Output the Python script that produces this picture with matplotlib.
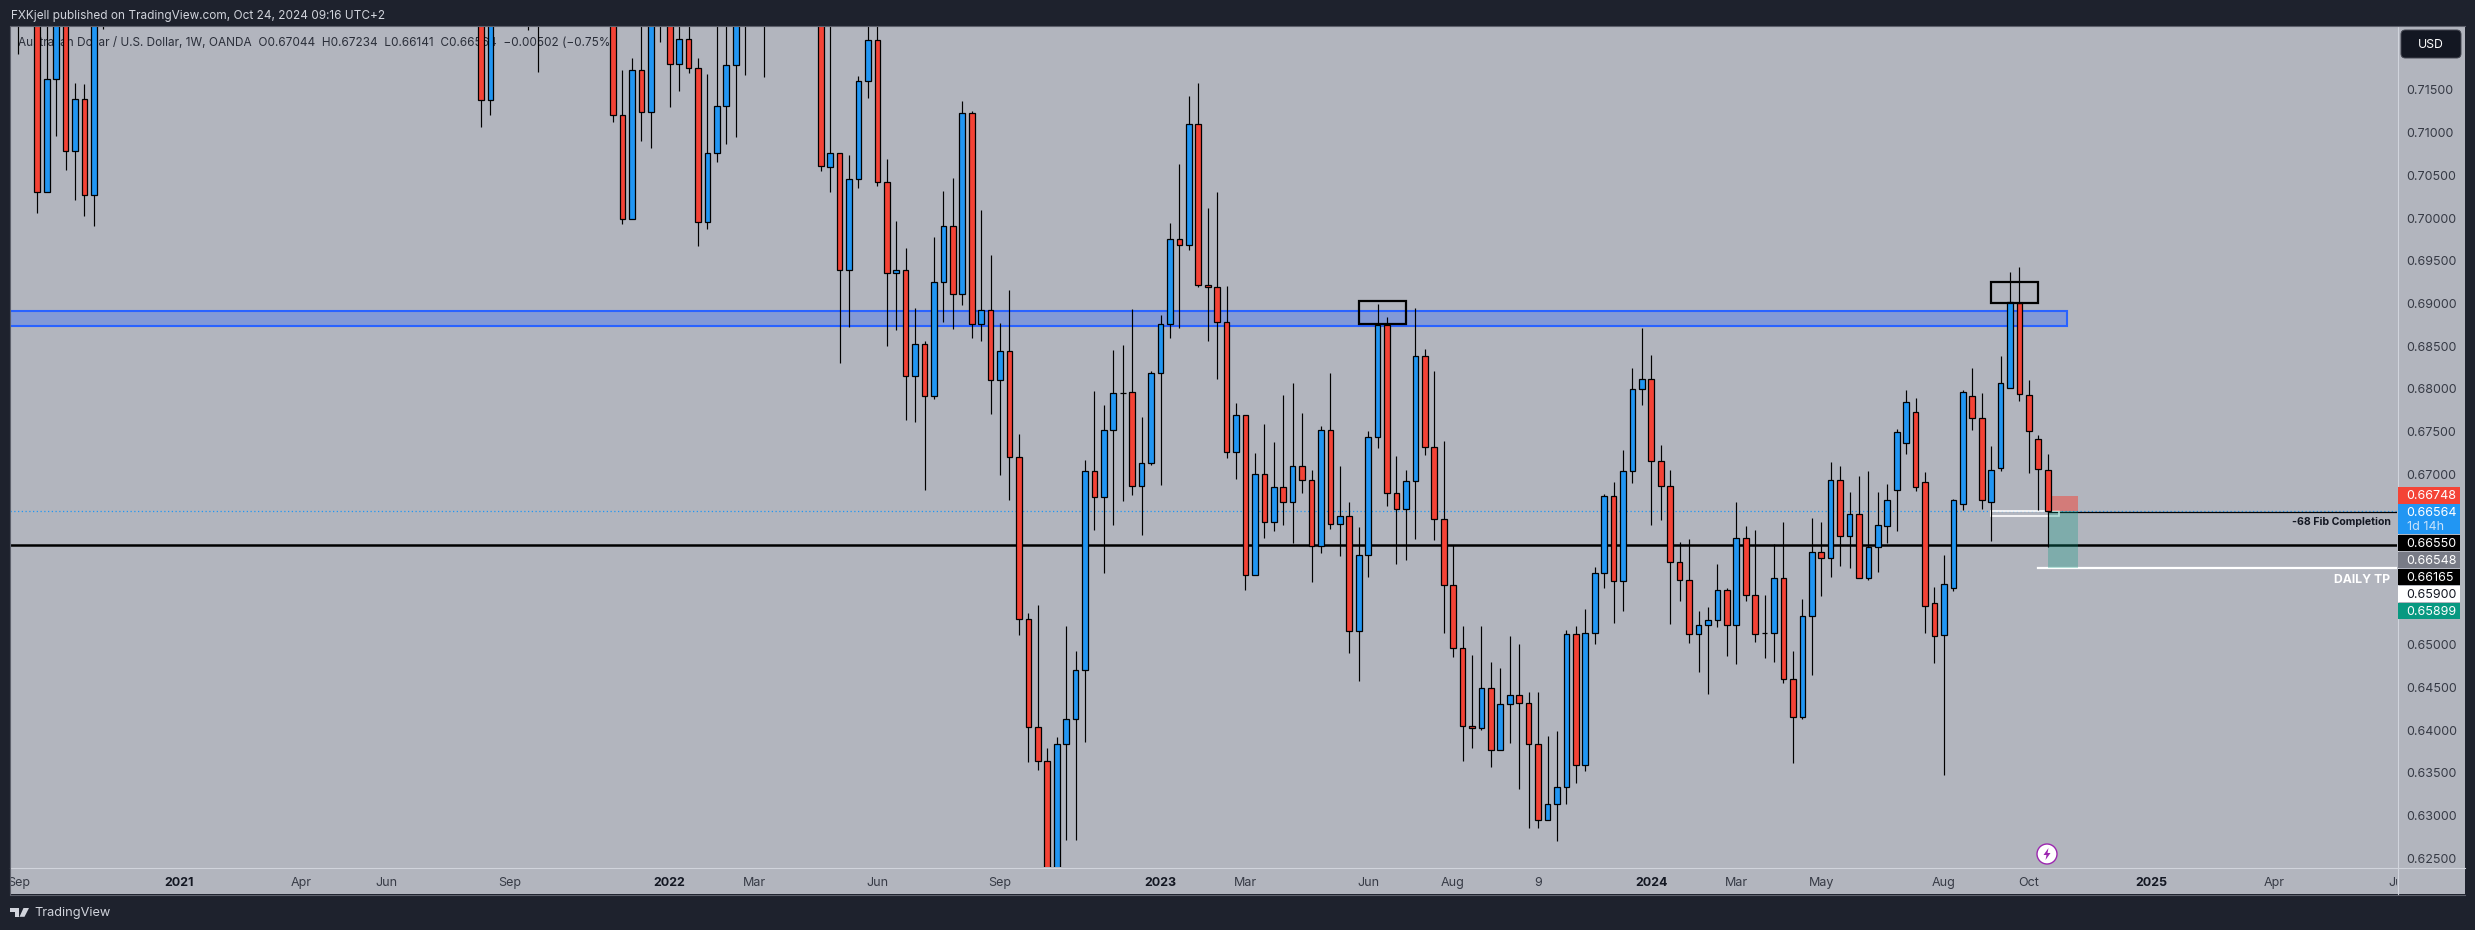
import numpy as np
import matplotlib
matplotlib.use("Agg")
import matplotlib.pyplot as plt
from matplotlib.patches import Rectangle, Circle, Polygon, FancyBboxPatch
from matplotlib.lines import Line2D
from matplotlib.transforms import Bbox

# AUDUSD weekly candles, week 0 = 2020-09-07, only what shows up in the window
# (bodies above the top edge are rough guesses, they are cut off anyway)
weeks = [0, 2, 3, 4, 5, 6, 7, 8, 9, 49, 50, 54, 55, 63, 64, 65, 66, 67, 68, 69, 70, 71,
         72, 73, 74, 75, 76, 77, 79, 85] + list(range(86, 216))

opens = [.7300, .7300, .70302, .71626, .7300, .70789, .71391, .70273, .7300, .7300, .7138, .7300, .7300, .7300, .71204,
         .69985, .71731, .71246, .7300, .7240, .71808, .72094, .71754, .6995, .70759, .71309, .7179, .7300, .7300, .7260,
         .70601, .70759, .69388, .70454, .71602, .72083, .70426, .69352, .69388, .68152, .6852, .67918, .69247, .69903,
         .69113, .71227, .68762, .68919, .68106, .68438, .67203, .65298, .64032, .63634, .6220, .63833, .64126, .6470,
         .67032, .66735, .67513, .67955, .67958, .66856, .67126, .68181, .68755, .69751, .6968, .71098, .69212, .69188,
         .68778, .67255, .67688, .65821, .66997, .66435, .66845, .66676, .67091, .66927, .66153, .67513, .66418, .66505,
         .65164, .66048, .67431, .6875, .66774, .66587, .66915, .6838, .67313, .6647, .65696, .64958, .64044, .64021,
         .6449, .63763, .64302, .64407, .64314, .63833, .62943, .6313, .63329, .65122, .63587, .65134, .65837, .66739,
         .65743, .67032, .67993, .6811, .67149, .66856, .65966, .65755, .65122, .65228, .65293, .65638, .65235, .66247,
         .65586, .6514, .65137, .65778, .64602, .64157, .65333, .66083, .6602, .66927, .66271, .66528, .65785, .66142,
         .66388, .6681, .6736, .67724, .66903, .65485, .65117, .65668, .66646, .67911, .67653, .66669, .67067, .68005,
         .69001, .67923, .67407, .67044]

highs = [.7340, .7340, .7260, .7340, .7340, .71582, .71571, .7340, .7340, .7340, .7340, .7340, .7340, .7340, .71735,
         .71879, .7260, .7300, .7340, .7280, .7240, .7240, .71872, .71688, .7240, .7240, .7300, .7340, .7340, .7300,
         .7240, .70759, .70739, .71664, .7240, .7240, .70692, .69965, .69649, .68942, .68559, .69778, .70317, .70469,
         .71371, .71254, .70094, .69567, .68773, .69157, .67469, .65368, .65466, .63786, .63915, .65219, .64927, .67165,
         .67973, .67809, .68454, .68512, .68931, .67668, .68204, .6886, .69942, .70633, .7143, .71582, .70118, .70305,
         .69204, .67833, .67688, .67243, .67586, .67376, .67926, .68067, .67715, .67047, .67563, .68184, .67094, .66672,
         .6638, .67504, .68993, .6884, .67211, .67047, .68946, .68465, .68208, .67384, .66169, .65219, .6488, .65219,
         .64798, .64727, .65102, .65008, .64446, .64446, .6393, .63989, .65173, .65219, .65419, .65911, .66766, .66907,
         .67278, .68243, .68711, .68395, .6734, .67047, .66204, .66239, .65395, .65442, .65946, .65665, .66672, .66391,
         .66344, .65583, .6618, .66438, .64927, .65536, .66485, .66438, .67141, .67094, .6679, .66977, .67036, .6679,
         .66883, .67528, .67985, .67891, .67024, .65676, .66051, .66711, .67985, .68243, .6795, .67329, .68383, .69364,
         .69423, .68099, .67454, .67234]

lows = [.71922, .70062, .70302, .70961, .70563, .70211, .70024, .69907, .72219, .7107, .71207, .72203, .71715, .71129, .69934,
        .69985, .70906, .70824, .72066, .71305, .71492, .71703, .69676, .69875, .70657, .70868, .70953, .71676, .71656, .70555,
        .70309, .68298, .68727, .70355, .7141, .70379, .68504, .68688, .67633, .67613, .66817, .67879, .68785, .68703,
        .68981, .68594, .68563, .67704, .66989, .66696, .65114, .6363, .63532, .6170, .6180, .62712, .62712, .6386,
        .66344, .65844, .66403, .66684, .66755, .66289, .67106, .66872, .68594, .68715, .69629, .69195, .68563, .68117,
        .67188, .66942, .65645, .65821, .66251, .66333, .66403, .66192, .66778, .65735, .66078, .66356, .6604, .64907,
        .64578, .65797, .67309, .66629, .65949, .65996, .66242, .67223, .66231, .65141, .6486, .63638, .63793, .64004,
        .63571, .63763, .63848, .6331, .62856, .62856, .62943, .62704, .63137, .63383, .63524, .65012, .65668, .65258,
        .65399, .66899, .67813, .66403, .66465, .65243, .65512, .65024, .64684, .64426, .65211, .64868, .64774, .65512,
        .65032, .64844, .64798, .64551, .63614, .6413, .64645, .65571, .65794, .65923, .65899, .65785, .65758, .65852,
        .66192, .66336, .67235, .66805, .65137, .64786, .63473, .6563, .66579, .67516, .66594, .66215, .67039, .68005,
        .6786, .67016, .66579, .66141]

closes = [.7260, .70302, .71626, .7300, .70789, .71391, .70273, .7300, .7260, .7138, .7300, .7260, .7260, .71204, .69985,
          .71731, .71246, .7260, .7260, .71808, .72094, .71754, .6995, .70759, .71309, .7179, .7260, .7260, .7260, .70610,
          .70759, .69388, .70454, .71602, .72083, .70426, .69352, .69388, .68152, .6852, .67918, .69247, .69903, .69113,
          .71227, .68762, .68919, .68106, .68438, .67203, .65298, .64032, .63634, .6220, .63833, .64126, .6470, .67032,
          .66735, .67513, .67946, .6795, .66856, .67126, .68181, .68755, .69751, .6968, .71098, .69212, .69188, .68778,
          .67255, .67688, .65821, .66997, .66435, .66845, .66676, .67091, .66927, .66153, .67513, .66418, .66505, .65164,
          .66048, .67431, .6875, .66774, .66587, .66915, .6838, .67313, .6647, .65696, .64958, .64044, .64021, .6449,
          .63763, .64302, .64407, .64314, .63833, .62943, .6313, .63329, .65122, .63587, .65134, .65837, .66739, .65743,
          .67032, .67993, .6811, .67149, .66856, .65966, .65755, .65122, .65228, .65293, .65638, .65235, .66247, .65586,
          .65129, .65134, .65778, .64602, .64157, .65333, .66083, .6602, .66927, .66271, .66528, .65785, .66142, .664,
          .66692, .67489, .67841, .66845, .65457, .65099, .65708, .66692, .67958, .67653, .66692, .67044, .68063, .69013,
          .67935, .67501, .67056, .66564]

# 0.655, 0.66, 0.665 and 0.72 sit behind the tags and the USD button, left out
price_ticks = [.625, .63, .635, .64, .645, .65, .67, .675, .68, .685, .69, .695, .70, .705, .71, .715]
time_ticks = [0, 17, 30, 39, 52, 69, 78, 91, 104, 121, 130, 143, 152, 161, 173, 182, 191, 204, 213, 226, 239, 252]
time_labels = ["Sep", "2021", "Apr", "Jun", "Sep", "2022", "Mar", "Jun", "Sep", "2023", "Mar", "Jun", "Aug", "9",
               "2024", "Mar", "May", "Aug", "Oct", "2025", "Apr", "Jul"]

zone_low, zone_high = 0.6874, 0.6891
last_price = 0.66564
fib_level = 0.6655
black_level = 0.66165
tp_level = 0.659
stop_level = 0.66748
target_level = 0.65899

tag_texts = ["0.66748", "0.66564", "0.66550", "0.66548", "0.66165", "0.65900", "0.65899"]
tag_colors = ["#f44336", "#2196f3", "#000000", "#787b86", "#000000", "#ffffff", "#089981"]
tag_text_colors = ["#ffffff", "#ffffff", "#ffffff", "#ffffff", "#ffffff", "#131722", "#ffffff"]

W, H = 2475, 930
DARK = "#1e222d"
PANEL = "#b2b5be"
INK = "#2a2e39"
FONT = "Inter"
plt.rcParams["font.family"] = [FONT, "DejaVu Sans"]


def fx(x):
    return x / W


def fy(y):
    return 1 - y / H


def px_rect(fig, x0, y0, x1, y1, **kw):
    # rectangle in image pixels, y going down
    fig.add_artist(Rectangle((fx(x0), fy(y1)), (x1 - x0) / W, (y1 - y0) / H,
                             transform=fig.transFigure, **kw))


def draw_candles(ax):
    o = np.array(opens)
    c = np.array(closes)
    x = np.array(weeks)
    ax.vlines(x, lows, highs, color="black", lw=0.85, zorder=4)
    up = c >= o
    bottoms = np.minimum(o, c)
    heights = np.abs(c - o)
    ax.bar(x, heights, 0.6, bottoms, color=np.where(up, "#2196f3", "#f44336"),
           edgecolor="black", linewidth=0.9, zorder=5)


def draw_levels(ax):
    ax.add_patch(Rectangle((-5, zone_low), 222, zone_high - zone_low, facecolor="#8299d6",
                           edgecolor="#2962ff", lw=1.5, zorder=2))
    ax.axhline(black_level, color="black", lw=1.8, zorder=2)
    ax.axhline(last_price, color="#2196f3", lw=0.9, ls=(0, (1, 2)), zorder=2.5)
    ax.plot([215, 260], [fib_level, fib_level], color="black", lw=0.9, zorder=3)
    ax.plot([214, 260], [tp_level, tp_level], color="white", lw=1.6, zorder=3)
    ax.add_patch(Rectangle((209, 0.66512), 7.2, 0.00055, fill=False, edgecolor="white", lw=1.2, zorder=3))

    # short position box
    ax.add_patch(Rectangle((215, last_price), 3.2, stop_level - last_price, facecolor="#f44336",
                           edgecolor="none", alpha=0.5, zorder=3))
    ax.add_patch(Rectangle((215, target_level), 3.2, last_price - target_level, facecolor="#089981",
                           edgecolor="none", alpha=0.3, zorder=3))

    # the two marked tops
    ax.add_patch(Rectangle((142, 0.68758), 5, 0.00273, fill=False, edgecolor="black", lw=1.6, zorder=6))
    ax.add_patch(Rectangle((209, 0.69004), 5, 0.0025, fill=False, edgecolor="black", lw=1.6, zorder=6))

    ax.text(2391, 930 - 521.5, "-68 Fib Completion", transform=None, ha="right", va="center",
            fontsize=7.6, fontweight="bold", color="#131722", zorder=7)
    ax.text(2390, 930 - 580, "DAILY TP", transform=None, ha="right", va="center",
            fontsize=8.8, fontweight="bold", color="white", zorder=7)


def draw_price_tags(fig):
    y = 487.3
    for text, bg, fg in zip(tag_texts, tag_colors, tag_text_colors):
        tall = text == "0.66564"
        h = 30.4 if tall else 17
        px_rect(fig, 2398, y, 2459.5, y + h - 0.4, facecolor=bg, edgecolor="none", zorder=4)
        fig.text(fx(2406.6), fy(y + 9), text, color=fg, fontsize=9, va="center", ha="left", zorder=5)
        if tall:
            fig.text(fx(2406.6), fy(y + 23), "1d 14h", color="#c8e3fb", fontsize=9, va="center", ha="left", zorder=5)
        y += h


def draw_chrome(fig):
    # header and logo
    fig.text(fx(10.5), fy(15.7), "FXKjell published on TradingView.com, Oct 24, 2024 09:16 UTC+2",
             color="#d1d4dc", fontsize=8.5, va="center", ha="left")
    fig.text(fx(34), fy(913), "TradingView", color="#d1d4dc", fontsize=9.2, va="center", ha="left")
    logo = "#d1d4dc"
    px_rect(fig, 10, 908, 18.5, 911.5, facecolor=logo, edgecolor="none")
    px_rect(fig, 14.5, 908, 18.5, 916.8, facecolor=logo, edgecolor="none")
    fig.add_artist(Polygon([(fx(23.5), fy(908)), (fx(29), fy(908)), (fx(24.5), fy(916.8)), (fx(19.5), fy(916.8))],
                           transform=fig.transFigure, facecolor=logo, edgecolor="none"))

    # USD button
    fig.add_artist(FancyBboxPatch((fx(2401), fy(58)), 60 / W, 28 / H, boxstyle="round,pad=0,rounding_size=0.0018",
                                  mutation_aspect=W / H, transform=fig.transFigure, facecolor="#131722",
                                  edgecolor="#434651", lw=0.7, zorder=4))
    fig.text(fx(2431), fy(44.5), "USD", color="#ffffff", fontsize=8.8, va="center", ha="center", zorder=5)

    # separators of the axis strips
    sep = "#d1d4dc"
    fig.add_artist(Line2D([fx(10), fx(2465)], [fy(867.5), fy(867.5)], color=sep, lw=0.8, zorder=3))
    fig.add_artist(Line2D([fx(2397.5), fx(2397.5)], [fy(27), fy(894)], color=sep, lw=0.8, zorder=3))
    border = "#5d606b"
    fig.add_artist(Line2D([fx(10), fx(2465)], [fy(26.5), fy(26.5)], color=border, lw=0.8, zorder=3))
    fig.add_artist(Line2D([fx(10), fx(2465)], [fy(894.5), fy(894.5)], color=border, lw=0.8, zorder=3))
    fig.add_artist(Line2D([fx(10), fx(10)], [fy(27), fy(894)], color=border, lw=0.8, zorder=3))

    # lightning badge
    cx, cy = 2047, 854
    badge = Circle((cx, H - cy), 10, transform=None, facecolor="white", edgecolor="#9c27b0", lw=1.0, zorder=6)
    fig.add_artist(badge)
    bolt = [(cx + 1.5, cy - 6), (cx - 3.5, cy + 1), (cx - 0.5, cy + 1), (cx - 1.5, cy + 6), (cx + 3.5, cy - 1), (cx + 0.5, cy - 1)]
    fig.add_artist(Polygon([(fx(a), fy(b)) for a, b in bolt], transform=fig.transFigure,
                           facecolor="#9c27b0", edgecolor="none", zorder=7))


def create_plot():
    fig = plt.figure(figsize=(W / 100, H / 100), dpi=100, facecolor=DARK)

    # grey chart frame including the two axis strips
    px_rect(fig, 10, 27, 2465, 894, facecolor=PANEL, edgecolor="none", zorder=-1)

    ax = fig.add_axes([fx(10), fy(867), 2387 / W, 840 / H], facecolor=PANEL)
    ax.set_xlim(-0.89, 252.0)
    ax.set_ylim(0.62396, 0.72238)
    for s in ax.spines.values():
        s.set_visible(False)

    draw_levels(ax)
    draw_candles(ax)

    ax.text(18.4, 930 - 42.7, "Australian Dollar / U.S. Dollar, 1W, OANDA  O0.67044  H0.67234  L0.66141  C0.66564  \u22120.00502 (\u22120.75%)",
            transform=None, color=INK, fontsize=8.5, va="center", ha="left", zorder=1)

    ax.yaxis.tick_right()
    ax.set_yticks(price_ticks)
    ax.set_yticklabels([f"{p:.5f}" for p in price_ticks])
    ax.tick_params(axis="y", length=0, pad=6.9, labelsize=9, labelcolor="#363a45")

    ax.set_xticks(time_ticks)
    ax.set_xticklabels(time_labels)
    ax.tick_params(axis="x", length=0, pad=7.2, labelsize=9, labelcolor="#363a45")
    clip = Bbox([[10, 0], [2397, H]])
    for lab in ax.get_xticklabels():
        lab.set_clip_on(True)
        lab.set_clip_box(clip)
        if lab.get_text().isdigit() and len(lab.get_text()) == 4:
            lab.set_fontweight("bold")
            lab.set_color("#131722")

    draw_price_tags(fig)
    draw_chrome(fig)

    fig.savefig("out.png", dpi=100, facecolor=DARK)


def main():
    create_plot()


if __name__ == "__main__":
    main()
